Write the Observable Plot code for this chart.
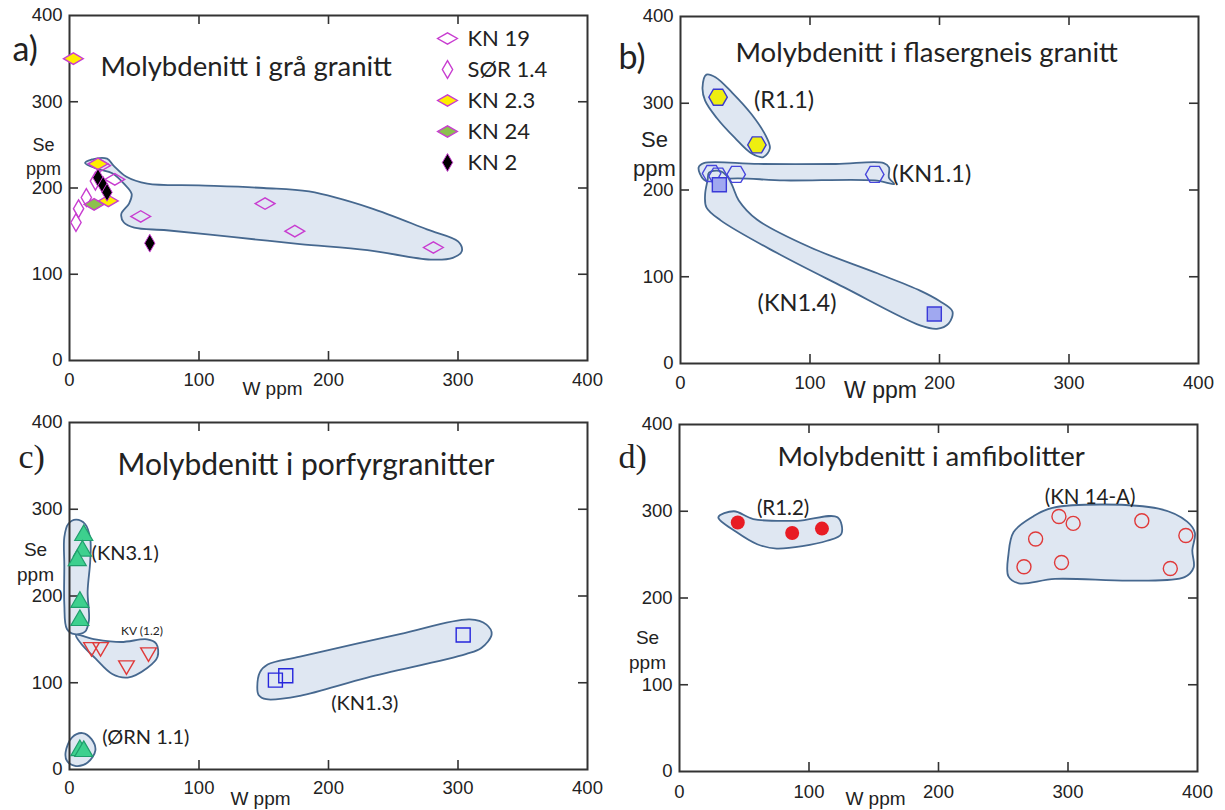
<!DOCTYPE html>
<html><head><meta charset="utf-8">
<script src="https://cdn.jsdelivr.net/npm/d3@7"></script>
<script src="https://cdn.jsdelivr.net/npm/@observablehq/plot@0.6"></script>
<style>
body{margin:0;background:#fff;}
#wrap{position:relative;width:1225px;height:810px;overflow:hidden;background:#fff;}
.panel{position:absolute;}
.panel svg{overflow:visible;}
</style></head><body><div id="wrap"></div>
<script>
// ---------- data (W ppm, Se ppm) ----------
const axisTicks = [0, 100, 200, 300, 400];
const innerTicks = [100, 200, 300];

// a) grå granitt
const aKN19 = [[24,226],[35,210],[55,167],[151,182],[174,150],[281,131]];
const aSOR14 = [[5,160],[7,176],[13,189],[20,208]];
const aKN23 = [[3,350],[22,228],[30,185]];
const aKN24 = [[19,181]];
const aKN2 = [[22,212],[26,203],[29,195],[62,136]];
const aBlob = [[12,229],[17,233],[29,234],[34,226],[44,213],[60,205],[100,203],[150,200],[185,196],[232,177],[276,152],[300,138],[303,127],[296,119],[279,117],[230,128],[178,135],[127,143],[75,151],[50,154],[42,160],[40,170],[46,182],[48,193],[42,205],[33,217],[22,222]];
const aLegendNames = ["KN 19", "SØR 1.4", "KN 2.3", "KN 24", "KN 2"];

// b) flasergneis granitt
const bR11 = [[29,307],[59,252]];
const bKN11 = [[24,219],[29,216],[43,218],[150,218]];
const bKN14 = [[30,206],[196,57]];
const bBlobR11 = [[17,318],[20,333],[27,330],[40,312],[55,287],[66,262],[69,248],[64,238],[55,242],[42,260],[28,283],[19,303]];
const bBlobKN11 = [[14,226],[18,231],[60,230],[120,230],[157,231],[161,226],[161,214],[165,207],[150,211],[80,211],[38,213],[27,208],[18,212]];
const bBlobKN14 = [[22,220],[30,222],[36,216],[40,205],[45,188],[59,166],[100,134],[152,104],[185,84],[200,72],[210,60],[207,46],[198,40],[185,44],[126,88],[75,127],[31,165],[20,180],[19,195],[21,212]];
const bLabels = [["(R1.1)",80,303],["(KN1.1)",194,218],["(KN1.4)",90,69]];

// c) porfyrgranitter
const cKN31 = [[11,270],[10,252],[6,241],[8,193],[8,172]];
const cORN11 = [[8,22],[11,21]];
const cKV12 = [[17,141],[24,141],[44,120],[61,135]];
const cKN13 = [[159,103],[167,108],[304,155]];
const cBlobKN31 = [[-4,268],[-1,283],[5,288],[12,283],[16,266],[16,240],[14,205],[15,172],[12,159],[4,156],[-2,162],[-4,190],[-4,235]];
const cBlobKV12 = [[5,155],[20,150],[40,147],[60,150],[67,145],[68,130],[60,117],[45,106],[33,110],[20,128],[9,145]];
const cBlobORN11 = [[-3,20],[2,37],[10,42],[17,35],[20,22],[14,8],[5,4],[-2,10]];
const cBlobKN13 = [[145,95],[147,112],[153,121],[178,130],[255,156],[309,173],[322,167],[326,156],[318,140],[306,133],[230,106],[178,85],[152,81],[146,86]];
const cLabels = [["(KN3.1)",43,249,20],["KV (1.2)",56,159,12],["(ØRN 1.1)",59,37,20],["(KN1.3)",228,76,20]];

// d) amfibolitter
const dR12 = [[45,287],[87,275],[110,280]];
const dKN14A = [[266,236],[275,268],[293,294],[304,286],[295,241],[357,289],[379,234],[391,272]];
const dBlobR12 = [[30,293],[42,300],[57,291],[91,289],[122,293],[125,274],[114,266],[75,257],[60,262],[44,276]];
const dBlobKN14A = [[254,250],[258,276],[272,293],[288,304],[370,303],[392,288],[398,275],[396,255],[397,235],[390,224],[350,220],[290,222],[262,217],[254,225]];
const dLabels = [["(R1.2)",80,303],["(KN 14-A)",317,316]];

// ---------- styles ----------
const LATO = "Lato, 'Open Sans', sans-serif";
const ARIAL = "'Liberation Sans', Arial, sans-serif";
const SERIF = "'Liberation Serif', 'Times New Roman', serif";
const BLOB_FILL = "#dfe7f2", BLOB_STROKE = "#46688f";
const MAG = "#c83cd0";
const INK = "#222";

const rows = pts => pts.map(([W, Se]) => ({W, Se}));
const blobRows = blobs => blobs.flatMap((pts, g) => pts.map(([W, Se]) => ({W, Se, g})));
const labelRows = ls => ls.map(([t, W, Se, fs]) => ({t, W, Se, fs}));

function panel(cfg) {
  const {mL, mT, mR, mB, pw, ph} = cfg;
  const tickStyle = {stroke: "#333", strokeWidth: 1.6};
  const marks = [
    Plot.line(blobRows(cfg.blobs), {x: "W", y: "Se", z: "g", curve: "catmull-rom-closed", fill: BLOB_FILL, stroke: BLOB_STROKE, strokeWidth: 1.8}),
    Plot.tickX(innerTicks, {x: d => d, insetTop: ph - 9, ...tickStyle}),
    Plot.tickX(innerTicks, {x: d => d, insetBottom: ph - 9, ...tickStyle}),
    Plot.tickY(innerTicks, {y: d => d, insetRight: pw - 9, ...tickStyle}),
    Plot.tickY(innerTicks, {y: d => d, insetLeft: pw - 9, ...tickStyle}),
    Plot.frame({stroke: "#333", strokeWidth: 2}),
    Plot.axisX({ticks: axisTicks, tickSize: 0, tickPadding: cfg.xPad, label: null, fill: INK, fontSize: 18.5, fontFamily: ARIAL}),
    Plot.axisY({ticks: axisTicks, tickSize: 0, tickPadding: 7, label: null, fill: INK, fontSize: 18.5, fontFamily: ARIAL}),
    ...cfg.marks,
    Plot.text([cfg.title], {text: d => d, frameAnchor: "top-left", textAnchor: "start", lineAnchor: "middle", dx: cfg.title_dx, dy: cfg.title_dy, fontFamily: LATO, fontSize: cfg.title_fs, fill: INK}),
    Plot.text([cfg.letter], {text: d => d, frameAnchor: "top-left", textAnchor: "start", lineAnchor: "middle", dx: cfg.let_dx, dy: cfg.let_dy, fontFamily: cfg.let_font, fontSize: 34, fill: INK}),
    Plot.text(["Se\nppm"], {text: d => d, frameAnchor: "top-left", textAnchor: "middle", lineAnchor: "middle", lineHeight: 1.3, dx: cfg.se_dx, dy: cfg.se_dy, fontFamily: ARIAL, fontSize: cfg.se_fs, fill: INK}),
    Plot.text(["W ppm"], {text: d => d, frameAnchor: "bottom-left", textAnchor: "middle", lineAnchor: "middle", dx: cfg.w_dx, dy: cfg.w_dy, fontFamily: ARIAL, fontSize: cfg.w_fs, fill: INK})
  ];
  const svg = Plot.plot({
    width: mL + pw + mR, height: mT + ph + mB,
    marginLeft: mL, marginTop: mT, marginRight: mR, marginBottom: mB,
    x: {domain: [0, 400]}, y: {domain: [0, 400]},
    style: {fontFamily: ARIAL, fontSize: "18.5px", color: INK, background: "none", overflow: "visible"},
    marks
  });
  const div = document.createElement("div");
  div.className = "panel";
  div.style.left = cfg.left + "px";
  div.style.top = cfg.top + "px";
  div.appendChild(svg);
  document.getElementById("wrap").appendChild(div);
}

const dotXY = {x: "W", y: "Se"};

// a)
panel({
  left: 0, top: 0, mL: 69, mT: 15, mR: 25, mB: 40, pw: 518, ph: 345, xPad: 12,
  blobs: [aBlob],
  title: "Molybdenitt i grå granitt", title_dx: 31, title_dy: 52, title_fs: 27.5,
  letter: "a)", let_dx: -57, let_dy: 35, let_font: LATO,
  se_dx: -26, se_dy: 140, se_fs: 18,
  w_dx: 203, w_dy: 28, w_fs: 19,
  marks: [
    Plot.dot(rows(aSOR14), {...dotXY, symbol: "diamond", r: 5.4, fill: "none", stroke: MAG, strokeWidth: 1.4}),
    Plot.dot(rows(aKN19), {...dotXY, symbol: "diamond", rotate: 90, r: 6, fill: "none", stroke: MAG, strokeWidth: 1.4}),
    Plot.dot(rows(aKN24), {...dotXY, symbol: "diamond", rotate: 90, r: 6, fill: "#8cc04e", stroke: MAG, strokeWidth: 1.4}),
    Plot.dot(rows(aKN23), {...dotXY, symbol: "diamond", rotate: 90, r: 6, fill: "#ffee00", stroke: MAG, strokeWidth: 1.4}),
    Plot.dot(rows(aKN2), {...dotXY, symbol: "diamond", r: 5.4, fill: "#000", stroke: MAG, strokeWidth: 1})
  ]
});

// legend for a)
{
  const styles = {
    "KN 19": {rotate: 90, r: 6, fill: "none", stroke: MAG, strokeWidth: 1.4},
    "SØR 1.4": {rotate: 0, r: 5.4, fill: "none", stroke: MAG, strokeWidth: 1.4},
    "KN 2.3": {rotate: 90, r: 6, fill: "#ffee00", stroke: MAG, strokeWidth: 1.4},
    "KN 24": {rotate: 90, r: 6, fill: "#8cc04e", stroke: MAG, strokeWidth: 1.4},
    "KN 2": {rotate: 0, r: 5.4, fill: "#000", stroke: MAG, strokeWidth: 1}
  };
  const svg = Plot.plot({
    width: 150, height: 160, marginTop: 17, marginBottom: 18, marginLeft: 17, marginRight: 0,
    y: {type: "point", domain: aLegendNames, padding: 0, axis: null},
    style: {background: "none", overflow: "visible"},
    marks: [
      ...aLegendNames.map(n => Plot.dot([n], {y: d => d, frameAnchor: "left", symbol: "diamond", ...styles[n]})),
      Plot.text(aLegendNames, {y: d => d, text: d => d, frameAnchor: "left", textAnchor: "start", dx: 20, fontFamily: LATO, fontSize: 22, fill: INK})
    ]
  });
  const div = document.createElement("div");
  div.className = "panel"; div.style.left = "430px"; div.style.top = "20px";
  div.appendChild(svg);
  document.getElementById("wrap").appendChild(div);
}

// b)
panel({
  left: 610, top: 0, mL: 70, mT: 16, mR: 24, mB: 42, pw: 518, ph: 347, xPad: 12,
  blobs: [bBlobR11, bBlobKN11, bBlobKN14],
  title: "Molybdenitt i flasergneis granitt", title_dx: 55, title_dy: 37, title_fs: 27.5,
  letter: "b)", let_dx: -62, let_dy: 42, let_font: LATO,
  se_dx: -26, se_dy: 136, se_fs: 22,
  w_dx: 200, w_dy: 27, w_fs: 23,
  marks: [
    Plot.dot(rows(bKN11), {...dotXY, symbol: "hexagon", rotate: 90, r: 8, fill: "none", stroke: "#4646dc", strokeWidth: 1.4}),
    Plot.dot(rows(bR11), {...dotXY, symbol: "hexagon", rotate: 90, r: 8, fill: "#eeee10", stroke: "#3a3acc", strokeWidth: 1.4}),
    Plot.dot(rows(bKN14), {...dotXY, symbol: "square", r: 7.9, fill: "#a0a8f0", stroke: "#3a3ad8", strokeWidth: 1.4}),
    Plot.text(labelRows(bLabels), {x: "W", y: "Se", text: "t", fontFamily: LATO, fontSize: 23.5, fill: INK})
  ]
});

// c)
panel({
  left: 0, top: 400, mL: 69, mT: 22, mR: 25, mB: 41, pw: 518, ph: 347, xPad: 11,
  blobs: [cBlobKN31, cBlobKV12, cBlobORN11, cBlobKN13],
  title: "Molybdenitt i porfyrgranitter", title_dx: 48, title_dy: 43, title_fs: 30,
  letter: "c)", let_dx: -51, let_dy: 35, let_font: SERIF,
  se_dx: -34, se_dy: 138, se_fs: 19,
  w_dx: 191, w_dy: 29, w_fs: 19,
  marks: [
    Plot.dot(rows(cKN31), {...dotXY, symbol: "triangle", r: 6.7, fill: "#3dd08e", stroke: "#1f9e6c", strokeWidth: 1.2}),
    Plot.dot(rows(cORN11), {...dotXY, symbol: "triangle", r: 6.7, fill: "#3dd08e", stroke: "#1f9e6c", strokeWidth: 1.2}),
    Plot.dot(rows(cKV12), {...dotXY, symbol: "triangle", rotate: 180, r: 5.8, fill: "none", stroke: "#e03a3a", strokeWidth: 1.4}),
    Plot.dot(rows(cKN13), {...dotXY, symbol: "square", r: 7.9, fill: "none", stroke: "#2626dc", strokeWidth: 1.4}),
    Plot.text(labelRows(cLabels), {x: "W", y: "Se", text: "t", fontSize: "fs", fontFamily: LATO, fill: INK})
  ]
});

// d)
panel({
  left: 610, top: 400, mL: 69, mT: 24, mR: 25, mB: 39, pw: 518, ph: 347, xPad: 13,
  blobs: [dBlobR12, dBlobKN14A],
  title: "Molybdenitt i amfibolitter", title_dx: 98, title_dy: 33, title_fs: 27.5,
  letter: "d)", let_dx: -61, let_dy: 33, let_font: SERIF,
  se_dx: -32, se_dy: 224, se_fs: 19,
  w_dx: 196, w_dy: 27, w_fs: 19,
  marks: [
    Plot.dot(rows(dR12), {...dotXY, r: 7, fill: "#e81c24", stroke: "none"}),
    Plot.dot(rows(dKN14A), {...dotXY, r: 7, fill: "none", stroke: "#e03a3a", strokeWidth: 1.4}),
    Plot.text(labelRows(dLabels), {x: "W", y: "Se", text: "t", fontFamily: LATO, fontSize: 20.5, fill: INK})
  ]
});
</script>
</body></html>
